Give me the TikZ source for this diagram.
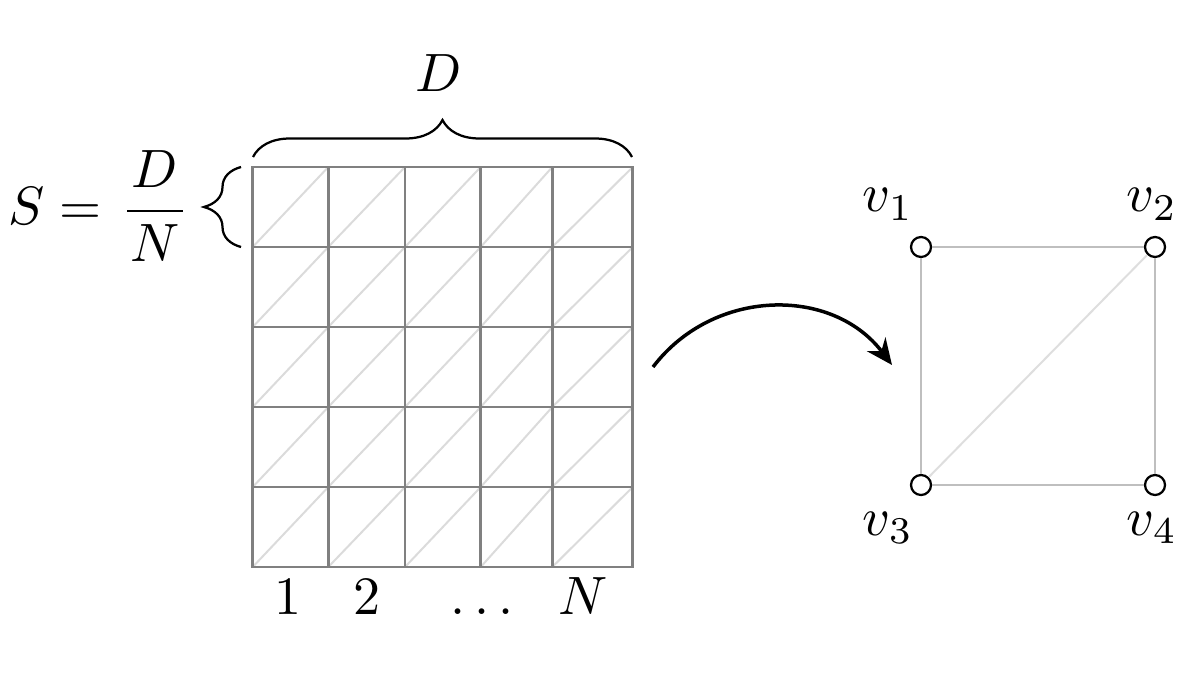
\RequirePackage{fix-cm}
\documentclass[tikz,border=0pt]{standalone}
\usetikzlibrary{decorations.pathreplacing,arrows.meta}
\tikzset{
  txt/.style={font=\fontsize{10.8pt}{13pt}\selectfont, inner sep=0pt, outer sep=0pt},
  gridline/.style={draw=gray, line width=0.5pt},
  diag/.style={draw=black!14, line width=0.4pt},
  bracestyle/.style={decorate, decoration={brace, amplitude=#1}, line width=0.45pt},
  vert/.style={circle, draw=black, fill=white, line width=0.45pt, minimum size=4pt, inner sep=0pt},
  gedge/.style={draw=black!25, line width=0.4pt},
  fedge/.style={draw=black!13, line width=0.4pt},
  maparrow/.style={line width=0.7pt, -{Stealth[length=5.2pt,width=4.6pt]}},
}
\begin{document}
\begin{tikzpicture}[x=0.2pt, y=-0.2pt]
\useasboundingbox (0,0) rectangle (1184,678);
% grid diagonals
\foreach \xa/\xb in {252.7/328.3, 328.3/405, 405/480.7, 480.7/552.3, 552.3/632.7}
  \foreach \ya/\yb in {167/247, 247/327, 327/407, 407/487, 487/567}
    \draw[diag] (\xa,\yb) -- (\xb,\ya);
% grid lines
\foreach \x in {328.3, 405, 480.7, 552.3}
  \draw[gridline] (\x,167) -- (\x,567);
\foreach \y in {247, 327, 407, 487}
  \draw[gridline] (252.7,\y) -- (632.7,\y);
\draw[gridline] (252.7,167) rectangle (632.7,567);
% braces
\draw[bracestyle=7.4pt] (253,157) -- (632,157);
\draw[bracestyle=7.4pt] (241,247) -- (241,167);
% labels
\node[txt, anchor=base] (D) at (439,92) {$D$};
\node[txt, anchor=base west] (S) at (8,224.5) {$\displaystyle S = \kern1pt\frac{\mkern1mu D\mkern1mu}{\mkern1mu N\mkern1mu}$};
\node[txt, anchor=base] (n1) at (288,614) {$1$};
\node[txt, anchor=base] (n2) at (367,614) {$2$};
\node[txt, anchor=base] (ndots) at (482,614) {$\dots$};
\node[txt, anchor=base] (nN) at (583,614) {$N$};
% arrow
\coordinate (as) at (653,367);
\coordinate (ae) at (892,365);
\draw[maparrow] (as) .. controls (713,288) and (832,286) .. (ae);
% graph
\node[vert] (v1) at (921,247) {};
\node[vert] (v2) at (1155,247) {};
\node[vert] (v3) at (921,485) {};
\node[vert] (v4) at (1155,485) {};
\draw[gedge] (v1) -- (v2);
\draw[gedge] (v1) -- (v3);
\draw[gedge] (v2) -- (v4);
\draw[gedge] (v3) -- (v4);
\draw[fedge] (v3) -- (v2);
\node[txt, anchor=base] (l1) at (888,212) {$v_1$};
\node[txt, anchor=base] (l2) at (1152,212) {$v_2$};
\node[txt, anchor=base] (l3) at (888,535) {$v_3$};
\node[txt, anchor=base] (l4) at (1152,535) {$v_4$};
\end{tikzpicture}
\end{document}
